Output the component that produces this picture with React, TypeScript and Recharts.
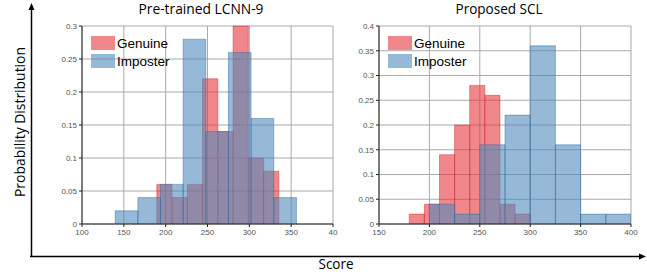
import { ComposedChart, Area, XAxis, YAxis, CartesianGrid } from "recharts";

// bin edges and probability per bin
const lcnnGenuineEdges = [189.4, 207.6, 225.9, 244.1, 262.4, 280.6, 298.8, 317.1, 335.3];
const lcnnGenuine = [0.06, 0.04, 0.06, 0.22, 0.14, 0.3, 0.1, 0.08];
const lcnnImposterEdges = [139.7, 166.8, 193.8, 220.9, 248.0, 275.0, 302.1, 329.2, 356.3];
const lcnnImposter = [0.02, 0.04, 0.06, 0.28, 0.14, 0.26, 0.16, 0.04];

const sclGenuineEdges = [180, 195, 210, 225, 240, 255, 270, 285, 300];
const sclGenuine = [0.02, 0.04, 0.14, 0.2, 0.28, 0.26, 0.04, 0.02];
const sclImposterEdges = [200, 225, 250, 275, 300, 325, 350, 375, 400];
const sclImposter = [0.04, 0.02, 0.16, 0.22, 0.36, 0.16, 0.02, 0.02];

const lcnnXTicks = [100, 150, 200, 250, 300, 350, 400];
const lcnnYTicks = [0, 0.05, 0.1, 0.15, 0.2, 0.25, 0.3];
const sclXTicks = [150, 200, 250, 300, 350, 400];
const sclYTicks = [0, 0.05, 0.1, 0.15, 0.2, 0.25, 0.3, 0.35, 0.4];

const SERIES = [
  { key: "gen", label: "Genuine", fill: "#e6373c", stroke: "#c9282e" },
  { key: "imp", label: "Imposter", fill: "#508abc", stroke: "#2f6a9e" },
];

// step outline: drops to 0 at every edge so each bin edge gets drawn
function binRows(key: string, edges: number[], values: number[]) {
  const rows: Record<string, number>[] = [];
  values.forEach((v, i) => {
    rows.push({ x: edges[i], [key]: 0 });
    rows.push({ x: edges[i], [key]: v });
  });
  rows.push({ x: edges[edges.length - 1], [key]: 0 });
  return rows;
}

const tickStyle = { fontSize: 8, fill: "#555", fontFamily: "Liberation Sans, Arial" };

function Histogram({
  data,
  xDomain,
  xTicks,
  yDomain,
  yTicks,
  width,
  marginLeft,
  marginRight,
  xFormat,
}: {
  data: Record<string, number>[];
  xDomain: [number, number];
  xTicks: number[];
  yDomain: [number, number];
  yTicks: number[];
  width: number;
  marginLeft: number;
  marginRight: number;
  xFormat?: (v: number) => string;
}) {
  return (
    <ComposedChart
      width={width}
      height={250}
      data={data}
      margin={{ top: 26, right: marginRight, left: marginLeft, bottom: 10 }}
    >
      <CartesianGrid stroke="#aaaaaa" />
      <XAxis
        type="number"
        dataKey="x"
        domain={xDomain}
        ticks={xTicks}
        interval={0}
        allowDataOverflow
        height={16}
        tick={tickStyle}
        tickSize={3}
        tickLine={{ stroke: "#222" }}
        axisLine={{ stroke: "#222" }}
        tickFormatter={xFormat}
      />
      <YAxis
        type="number"
        domain={yDomain}
        ticks={yTicks}
        interval={0}
        width={30}
        tick={tickStyle}
        tickSize={3}
        tickLine={{ stroke: "#222" }}
        axisLine={{ stroke: "#222" }}
      />
      {SERIES.map((s) => (
        <Area
          key={s.key}
          dataKey={s.key}
          type="stepAfter"
          connectNulls
          fill={s.fill}
          fillOpacity={0.6}
          stroke={s.stroke}
          strokeOpacity={0.55}
          strokeWidth={0.8}
          dot={false}
          activeDot={false}
          isAnimationActive={false}
        />
      ))}
    </ComposedChart>
  );
}

function LegendBox({ left, top }: { left: number; top: number }) {
  return (
    <div style={{ position: "absolute", left, top }}>
      {SERIES.map((s) => (
        <div key={s.key} style={{ display: "flex", alignItems: "center", height: 18 }}>
          <div style={{ width: 24, height: 14, background: s.fill, opacity: 0.6 }} />
          <span
            style={{
              marginLeft: 2,
              fontSize: 13.5,
              fontFamily: "Liberation Sans, Arial",
              color: "#000",
            }}
          >
            {s.label}
          </span>
        </div>
      ))}
    </div>
  );
}

export default function App() {
  const lcnnData = [
    ...binRows("gen", lcnnGenuineEdges, lcnnGenuine),
    ...binRows("imp", lcnnImposterEdges, lcnnImposter),
  ];
  const sclData = [
    ...binRows("gen", sclGenuineEdges, sclGenuine),
    ...binRows("imp", sclImposterEdges, sclImposter),
  ];

  return (
    <div
      style={{
        position: "absolute",
        left: 0,
        top: 0,
        width: 647,
        height: 277,
        background: "#fff",
        overflow: "hidden",
      }}
    >
      <div style={{ position: "absolute", left: 0, top: 0 }}>
        <Histogram
          data={lcnnData}
          xDomain={[100, 400]}
          xTicks={lcnnXTicks}
          yDomain={[0, 0.3]}
          yTicks={lcnnYTicks}
          width={340}
          marginLeft={52}
          marginRight={7}
          xFormat={(v) => (v === 400 ? "40" : String(v))}
        />
      </div>
      <div style={{ position: "absolute", left: 340, top: 0 }}>
        <Histogram
          data={sclData}
          xDomain={[150, 400]}
          xTicks={sclXTicks}
          yDomain={[0, 0.4]}
          yTicks={sclYTicks}
          width={300}
          marginLeft={9}
          marginRight={9}
        />
      </div>
      <LegendBox left={91} top={34} />
      <LegendBox left={388} top={34} />

      <svg
        width={647}
        height={277}
        style={{ position: "absolute", left: 0, top: 0, pointerEvents: "none" }}
        fontFamily="Open Sans, Noto Sans, sans-serif"
      >
        <text x={201} y={14} fontSize={14.5} textAnchor="middle" textLength={125} lengthAdjust="spacingAndGlyphs">
          Pre-trained LCNN-9
        </text>
        <text x={499} y={14} fontSize={14.5} textAnchor="middle" textLength={87} lengthAdjust="spacingAndGlyphs">
          Proposed SCL
        </text>
        <text x={336} y={269} fontSize={14.5} textAnchor="middle" textLength={35} lengthAdjust="spacingAndGlyphs">
          Score
        </text>
        <text
          x={0}
          y={0}
          fontSize={14.5}
          textAnchor="middle"
          textLength={150}
          lengthAdjust="spacingAndGlyphs"
          transform="translate(25 122) rotate(-90)"
        >
          Probability Distribution
        </text>
        <line x1={31.5} y1={257} x2={31.5} y2={9} stroke="#000" strokeWidth={1.5} />
        <polygon points="31.5,3 28.5,10 34.5,10" fill="#000" />
        <line x1={30} y1={256.5} x2={640} y2={256.5} stroke="#000" strokeWidth={1.5} />
        <polygon points="646,256.5 639,253.5 639,259.5" fill="#000" />
      </svg>
    </div>
  );
}
